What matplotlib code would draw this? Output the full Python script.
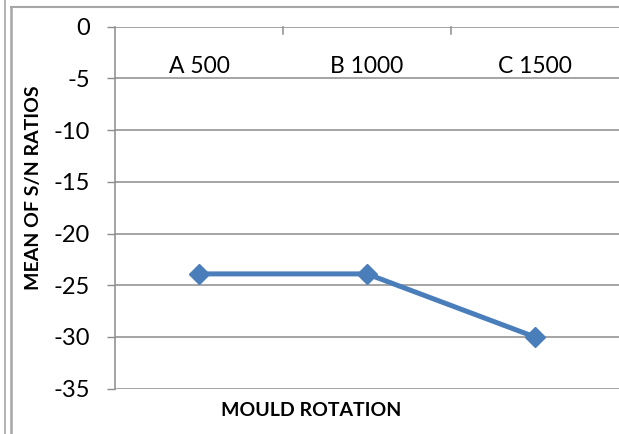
import numpy as np
import matplotlib.pyplot as plt
from matplotlib.lines import Line2D

# data
categories = ["A 500", "B 1000", "C 1500"]
sn_means = [-23.9, -23.9, -30.0]
y_ticks = [0, -5, -10, -15, -20, -25, -30, -35]

plt.rcParams['font.family'] = ['Lato', 'DejaVu Sans']

W, H = 619, 434
fig = plt.figure(figsize=(W / 100, H / 100), dpi=100)
ax = fig.add_axes([115 / W, 1 - 388.7 / H, (619 - 115) / W, (388.7 - 26.7) / H])

grid_col = '#8c8c8c'
xs = np.arange(1, len(categories) + 1)
ax.plot(xs, sn_means, color='#4a7ebb', lw=3.6, marker='D', ms=10,
        mec='#4a7ebb', mfc='#4a7ebb', zorder=3, clip_on=False)

ax.set_xlim(0.5, len(categories) + 0.5)
ax.set_ylim(-35, 0)
ax.set_yticks(y_ticks)
ax.set_yticklabels([str(v) for v in y_ticks], fontsize=17)
ax.tick_params(axis='y', length=6, width=1, color=grid_col, pad=12)
for v in y_ticks:
  ax.axhline(v, color=grid_col, lw=1.1, zorder=1)

# category labels hang just under the zero line
ax.set_xticks([])
for x, lab in zip(xs, categories):
  ax.text(x, -4.9, lab, ha='center', va='bottom', fontsize=16.5)
for x in xs[:-1] + 0.5:
  ax.plot([x, x], [0, -0.7], color=grid_col, lw=1.1, clip_on=False)

for s in ['top', 'right', 'bottom']:
  ax.spines[s].set_visible(False)
ax.spines['left'].set_color(grid_col)
ax.spines['left'].set_linewidth(1.1)

fig.text(34 / W, 1 - 188 / H, "MEAN OF S/N RATIOS", rotation=90,
         ha='center', va='center', fontsize=14, fontweight='bold')
fig.text(311 / W, 1 - 411 / H, "MOULD ROTATION", ha='center', va='center',
         fontsize=14, fontweight='bold')

# chart frame (double line on the left, thin line on top)
bc = '#a6a6a6'
fig.add_artist(Line2D([4.5 / W, 4.5 / W], [0, 1], color=bc, lw=1.2))
fig.add_artist(Line2D([10.5 / W, 10.5 / W], [0, 1 - 6.5 / H], color=bc, lw=1.8))
fig.add_artist(Line2D([10.5 / W, 1], [1 - 6.5 / H, 1 - 6.5 / H], color=bc, lw=1.5))

fig.savefig("out.png", dpi=100)
